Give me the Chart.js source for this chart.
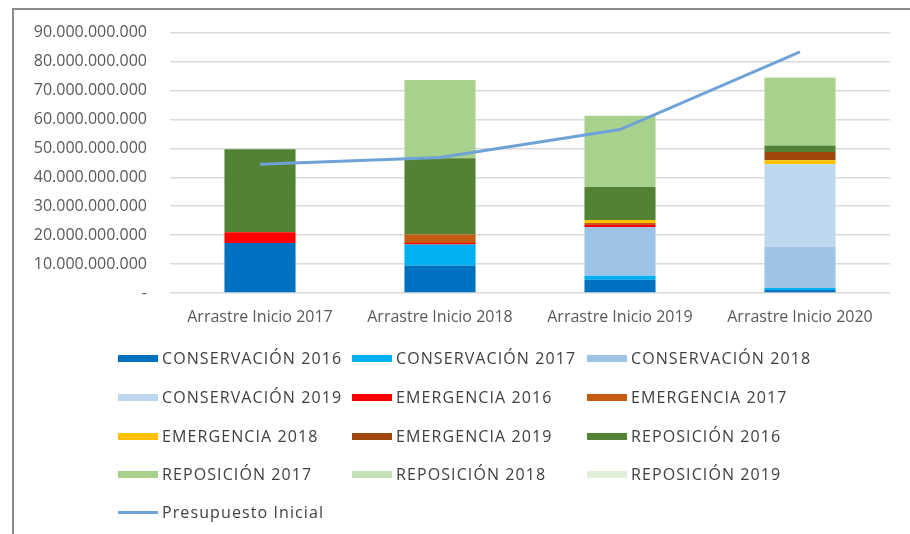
<!DOCTYPE html>
<html>
<head>
<meta charset="utf-8">
<script src="https://cdn.jsdelivr.net/npm/chart.js@4"></script>
<style>
  body { margin: 0; background: #fff; }
  #wrap { position: relative; width: 910px; height: 534px; overflow: hidden; background: #fff; }
  #frame { position: absolute; left: 12px; top: 8px; right: -4px; bottom: -4px; border-left: 2px solid #8c8c8c; border-top: 2px solid #8c8c8c; }
  #chart { position: absolute; left: 0; top: 0; }
  #legend { position: absolute; left: 0; top: 0; width: 910px; height: 534px; font-family: "Open Sans", sans-serif; font-size: 16px; letter-spacing: 1.1px; color: #404040; }
  .item { position: absolute; display: flex; align-items: center; white-space: nowrap; height: 20px; }
  .sw { width: 40px; height: 7px; margin-right: 4px; }
  .ln { width: 40px; height: 3px; margin-right: 4px; }
</style>
</head>
<body>
<div id="wrap">
  <canvas id="chart" width="910" height="340"></canvas>
  <div id="legend"></div>
  <div id="frame"></div>
</div>
<script>
const categories = ["Arrastre Inicio 2017", "Arrastre Inicio 2018", "Arrastre Inicio 2019", "Arrastre Inicio 2020"];

// valores en miles de millones
const conservacion2016 = [17.3, 9.5, 4.6, 1.0];
const conservacion2017 = [0, 7.3, 1.4, 0.7];
const conservacion2018 = [0, 0, 16.8, 14.3];
const conservacion2019 = [0, 0, 0, 28.5];
const emergencia2016 = [3.7, 0.5, 0.7, 0];
const emergencia2017 = [0, 2.9, 0.7, 0];
const emergencia2018 = [0, 0, 1.0, 1.4];
const emergencia2019 = [0, 0, 0, 2.8];
const reposicion2016 = [28.7, 26.4, 11.4, 2.3];
const reposicion2017 = [0, 27.0, 24.7, 23.3];
const reposicion2018 = [0, 0, 0, 0];
const reposicion2019 = [0, 0, 0, 0.5];
const presupuestoInicial = [44.5, 46.8, 56.5, 83.3];

const yTicks = [0, 10, 20, 30, 40, 50, 60, 70, 80, 90];

const B = 1e9;
const toPesos = arr => arr.map(v => v * B);

const barSeries = [
  ["CONSERVACIÓN 2016", conservacion2016, "#0070c0"],
  ["CONSERVACIÓN 2017", conservacion2017, "#00b0f0"],
  ["CONSERVACIÓN 2018", conservacion2018, "#9dc3e6"],
  ["CONSERVACIÓN 2019", conservacion2019, "#bdd7ee"],
  ["EMERGENCIA 2016", emergencia2016, "#ff0000"],
  ["EMERGENCIA 2017", emergencia2017, "#c55a11"],
  ["EMERGENCIA 2018", emergencia2018, "#ffc000"],
  ["EMERGENCIA 2019", emergencia2019, "#9e480e"],
  ["REPOSICIÓN 2016", reposicion2016, "#548235"],
  ["REPOSICIÓN 2017", reposicion2017, "#a9d18e"],
  ["REPOSICIÓN 2018", reposicion2018, "#c5e0b4"],
  ["REPOSICIÓN 2019", reposicion2019, "#e2f0d9"]
];

const datasets = barSeries.map(([label, data, color]) => ({
  type: "bar",
  label: label,
  data: toPesos(data),
  backgroundColor: color,
  borderWidth: 0,
  stack: "arrastre",
  order: 1,
  barPercentage: 0.395,
  categoryPercentage: 1
}));

datasets.push({
  type: "line",
  label: "Presupuesto Inicial",
  data: toPesos(presupuestoInicial),
  borderColor: "#6fa3d8",
  backgroundColor: "#6fa3d8",
  borderWidth: 3,
  pointRadius: 0,
  tension: 0,
  stack: "linea",
  order: 0
});

const fmt = v => v === 0 ? "-" : String(v).replace(/\B(?=(\d{3})+(?!\d))/g, ".");

new Chart(document.getElementById("chart"), {
  data: { labels: categories, datasets: datasets },
  options: {
    responsive: false,
    animation: false,
    layout: { padding: { left: 0, right: 20, top: 31, bottom: 0 } },
    plugins: { legend: { display: false }, tooltip: { enabled: false } },
    scales: {
      x: {
        stacked: true,
        offset: true,
        grid: { display: false, drawTicks: false },
        border: { display: false },
        ticks: { color: "#595959", font: { family: "Open Sans", size: 16 }, padding: 15, maxRotation: 0 },
        afterFit: s => { s.height = 47; }
      },
      y: {
        stacked: true,
        min: 0,
        max: 90 * B,
        afterBuildTicks: s => { s.ticks = yTicks.map(v => ({ value: v * B })); },
        grid: { color: "#d9d9d9", lineWidth: 1.5, drawTicks: false },
        border: { display: false },
        ticks: {
          color: "#595959",
          font: { family: "Open Sans", size: 16 },
          padding: 23,
          callback: v => fmt(v)
        },
        afterFit: s => { s.width = 170; }
      }
    }
  }
});

// leyenda en grilla de 3 columnas
const legend = document.getElementById("legend");
const colX = [118, 352, 587];
const rowY = [358, 397, 436, 474, 512];
const items = datasets.filter(d => d.type === "bar").concat(datasets.filter(d => d.type === "line"));
items.forEach((d, i) => {
  const el = document.createElement("div");
  el.className = "item";
  el.style.left = colX[i % 3] + "px";
  el.style.top = (rowY[Math.floor(i / 3)] - 10) + "px";
  const sw = document.createElement("span");
  sw.className = d.type === "line" ? "ln" : "sw";
  sw.style.background = d.type === "line" ? d.borderColor : d.backgroundColor;
  const tx = document.createElement("span");
  tx.textContent = d.label;
  el.appendChild(sw);
  el.appendChild(tx);
  legend.appendChild(el);
});
</script>
</body>
</html>
